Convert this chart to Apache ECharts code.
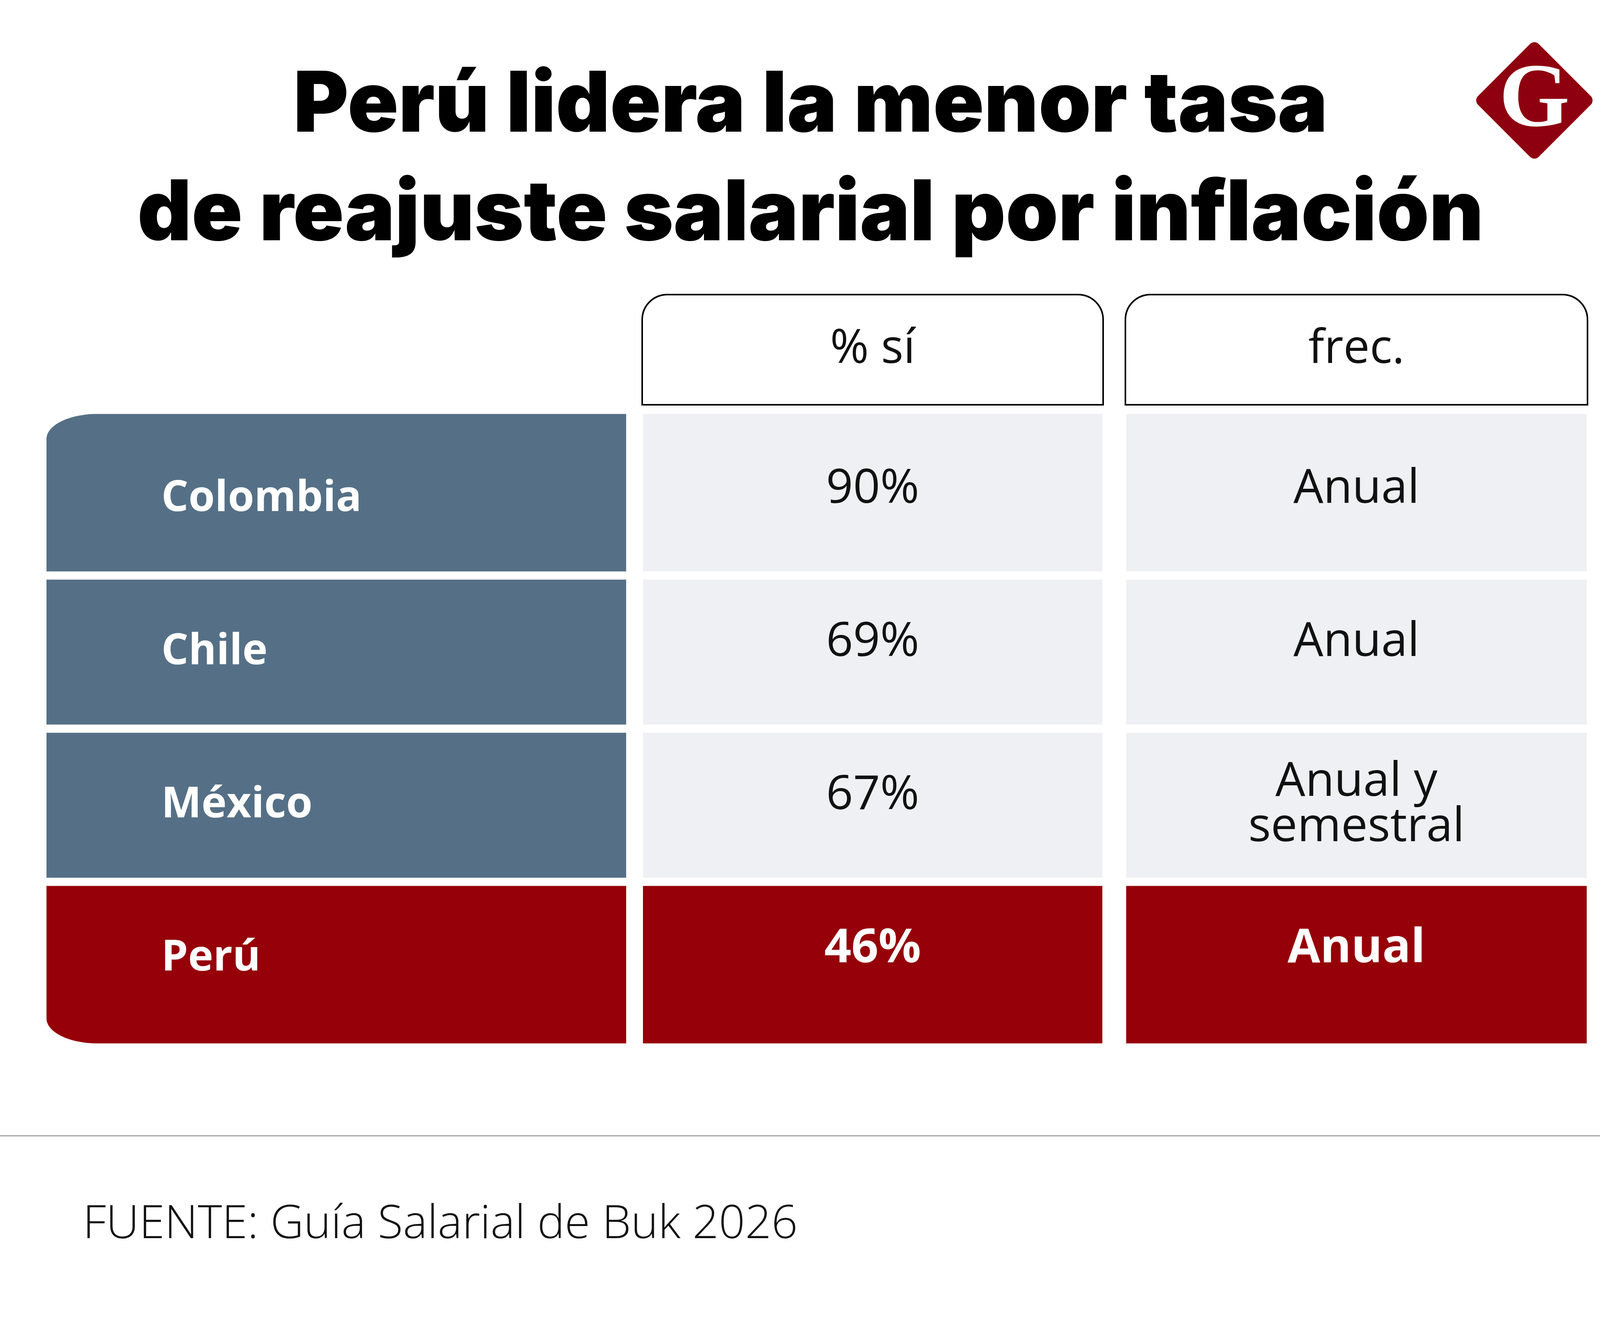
<!DOCTYPE html>
<html>
<head>
<meta charset="utf-8">
<title>Perú lidera la menor tasa de reajuste salarial por inflación</title>
<script src="https://cdn.jsdelivr.net/npm/echarts@6/dist/echarts.min.js"></script>
<style>html,body{margin:0;padding:0;background:#fff}</style>
</head>
<body>
<div id="main" style="width:4150px;height:3422px;"></div>
<script>
// datos de la tabla
var paises = ['Colombia', 'Chile', 'México', 'Perú'];
var porcentajeSi = [90, 69, 67, 46];
var frecuencia = ['Anual', 'Anual', 'Anual y\nsemestral', 'Anual'];
var columnas = ['% sí', 'frec.'];
var destacado = 'Perú';

var AZUL = '#557086', ROJO = '#960008', GRIS = '#eff0f4';
var FUENTE = '"Open Sans", "Noto Sans", sans-serif';
var TITULO = 'Inter, Roboto, "Noto Sans", sans-serif';

var myChart = echarts.init(document.getElementById('main'));

// celda con esquinas elípticas a la izquierda
function celda(x, y, w, h, arriba, abajo) {
    var rx = 130, ry = 64, k = 0.5523;
    var d = 'M' + (x + (arriba ? rx : 0)) + ' ' + y +
        ' L' + (x + w) + ' ' + y +
        ' L' + (x + w) + ' ' + (y + h) +
        ' L' + (x + (abajo ? rx : 0)) + ' ' + (y + h);
    if (abajo) d += ' C' + (x + rx - k * rx) + ' ' + (y + h) + ' ' + x + ' ' + (y + h - ry + k * ry) + ' ' + x + ' ' + (y + h - ry);
    d += ' L' + x + ' ' + (y + (arriba ? ry : 0));
    if (arriba) d += ' C' + x + ' ' + (y + ry - k * ry) + ' ' + (x + rx - k * rx) + ' ' + y + ' ' + (x + rx) + ' ' + y;
    return d + ' Z';
}

// caja de una fila a partir de los ejes
function caja(params, api) {
    var c = api.coord([0, api.value(1)]);
    var w = api.size([1, 0])[0], banda = api.size([0, 1])[1];
    var gap = 21, extra = 32;
    var y0 = c[1] - banda / 2 + gap / 2, y1 = c[1] + banda / 2 - gap / 2;
    var i = params.dataIndex;
    if (i === 0) y0 -= extra;
    if (i === paises.length - 1) y1 += extra;
    return { x: c[0] - w / 2, y: y0, w: w, h: y1 - y0, cx: c[0], cy: c[1] };
}

function renderPais(params, api) {
    var b = caja(params, api), i = params.dataIndex;
    return {
        type: 'group',
        children: [{
            type: 'path',
            shape: { pathData: celda(b.x, b.y, b.w, b.h, i === 0, i === paises.length - 1), x: b.x, y: b.y, width: b.w, height: b.h, layout: 'cover' },
            style: { fill: paises[i] === destacado ? ROJO : AZUL }
        }, {
            type: 'text',
            x: b.x + 294, y: b.cy,
            style: { text: paises[i], fill: '#fff', fontSize: 109, fontWeight: 'bold', fontFamily: FUENTE, align: 'left', verticalAlign: 'middle' }
        }]
    };
}

function renderValor(textos) {
    return function (params, api) {
        var b = caja(params, api), i = params.dataIndex;
        var dest = paises[i] === destacado;
        var t = textos[i];
        return {
            type: 'group',
            children: [{
                type: 'rect',
                shape: { x: b.x, y: b.y, width: b.w, height: b.h },
                style: { fill: dest ? ROJO : GRIS }
            }, {
                type: 'text',
                x: b.cx, y: b.cy + (t.indexOf('\n') < 0 ? -24 : 0),
                style: { text: t, fill: dest ? '#fff' : '#111', fontSize: 121, fontWeight: dest ? 'bold' : 'normal', fontFamily: FUENTE, lineHeight: 116, align: 'center', verticalAlign: 'middle' }
            }]
        };
    };
}

function cabecera(ancho) {
    return {
        margin: 47,
        formatter: function (v) { return '{h|' + v + '}'; },
        rich: {
            h: {
                width: ancho, height: 278, lineHeight: 278, align: 'center',
                fontSize: 120, fontFamily: FUENTE, color: '#111',
                backgroundColor: '#fff', borderColor: '#000', borderWidth: 4,
                borderRadius: [62, 62, 0, 0]
            }
        }
    };
}

var filas = paises.map(function (p, i) { return [0, i]; });

var option = {
    backgroundColor: '#fff',
    animation: false,
    title: {
        text: 'Perú lidera la menor tasa\nde reajuste salarial por inflación',
        left: 'center',
        top: 128,
        textStyle: { fontSize: 215, fontWeight: 900, lineHeight: 278, fontFamily: TITULO, color: '#000' }
    },
    grid: [
        { left: 119, width: 1484, top: 1081, height: 1568 },
        { left: 1646, width: 1176, top: 1081, height: 1568 },
        { left: 2883, width: 1179, top: 1081, height: 1568 }
    ],
    xAxis: [
        { gridIndex: 0, type: 'category', data: [''], show: false },
        { gridIndex: 1, type: 'category', data: [columnas[0]], position: 'top', axisLine: { show: false }, axisTick: { show: false }, axisLabel: cabecera(1176) },
        { gridIndex: 2, type: 'category', data: [columnas[1]], position: 'top', axisLine: { show: false }, axisTick: { show: false }, axisLabel: cabecera(1179) }
    ],
    yAxis: [0, 1, 2].map(function (g) {
        return { gridIndex: g, type: 'category', data: paises, inverse: true, show: false };
    }),
    series: [
        { type: 'custom', xAxisIndex: 0, yAxisIndex: 0, data: filas, renderItem: renderPais },
        { type: 'custom', xAxisIndex: 1, yAxisIndex: 1, data: filas, renderItem: renderValor(porcentajeSi.map(function (v) { return v + '%'; })) },
        { type: 'custom', xAxisIndex: 2, yAxisIndex: 2, data: filas, renderItem: renderValor(frecuencia) }
    ],
    graphic: [
        // logo
        {
            type: 'rect', x: 3928, y: 257, rotation: Math.PI / 4,
            shape: { x: -110, y: -110, width: 220, height: 220, r: 16 },
            style: { fill: '#8e0010' }
        },
        {
            type: 'text', x: 3928, y: 262,
            style: { text: 'G', fill: '#fff', fontSize: 232, fontWeight: 'bold', fontFamily: '"Liberation Serif", "DejaVu Serif", serif', align: 'center', verticalAlign: 'middle' }
        },
        // separador
        {
            type: 'line', shape: { x1: 0, y1: 2907, x2: 4150, y2: 2907 },
            style: { stroke: '#a0a0a0', lineWidth: 3 }
        },
        // fuente
        {
            type: 'text', x: 212, y: 3135,
            style: { text: 'FUENTE: Guía Salarial de Buk 2026', fill: '#111', fontSize: 118, fontWeight: 300, fontFamily: FUENTE, verticalAlign: 'middle' }
        }
    ]
};

myChart.setOption(option);
</script>
</body>
</html>
